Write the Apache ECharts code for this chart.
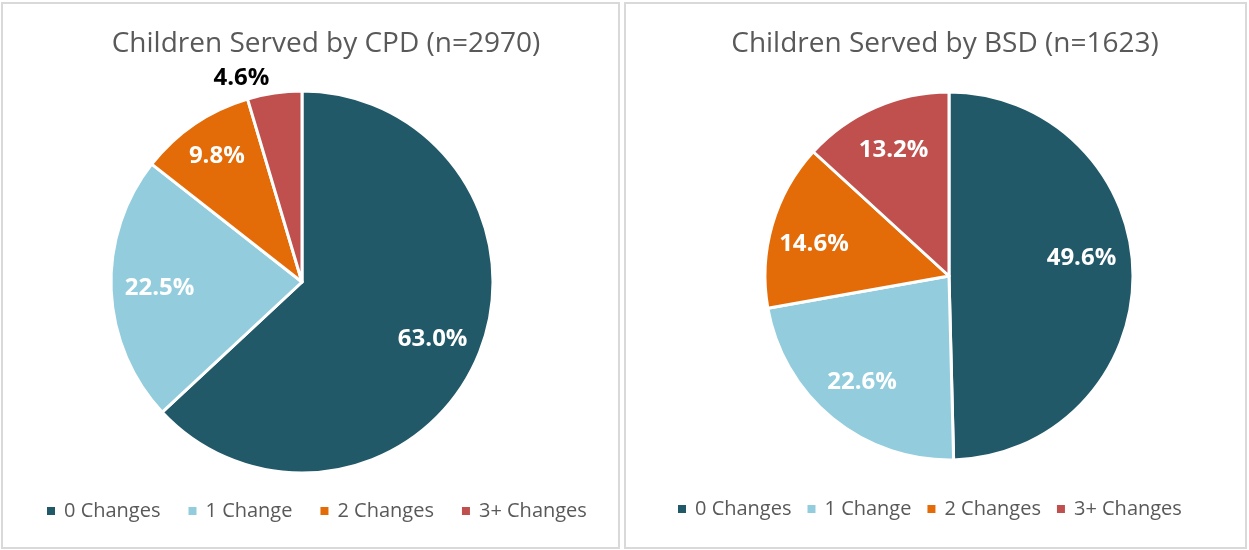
<!DOCTYPE html>
<html>
<head>
<meta charset="utf-8">
<title>Children Served</title>
<script src="https://cdn.jsdelivr.net/npm/echarts@6/dist/echarts.min.js"></script>
<style>
    html, body { margin:0; padding:0; background:#fff; }
    #main { width:1249px; height:550px; }
</style>
</head>
<body>
<div id="main"></div>
<script>
    var categories = ['0 Changes', '1 Change', '2 Changes', '3+ Changes'];
    var cpdValues = [63.0, 22.5, 9.8, 4.6];
    var bsdValues = [49.6, 22.6, 14.6, 13.2];
    var cpdTitle = 'Children Served by CPD (n=2970)';
    var bsdTitle = 'Children Served by BSD (n=1623)';

    var colors = ['#215968', '#93CDDD', '#E36C09', '#C0504D'];
    var fontFam = '"Open Sans", "Noto Sans", sans-serif';

    // tweaks for label spots (Excel moves some of them)
    var cpdLabelFix = { 2: { offset: [-5, -8] }, 3: { offset: [-40, -63], color: '#000' } };
    var bsdLabelFix = { 0: { offset: [-5, -16] }, 2: { offset: [-3, 7] } };

    function slices(vals) {
        return vals.map(function (v, i) {
            return { name: categories[i], value: v };
        });
    }

    function labelSlices(vals, fix) {
        return vals.map(function (v, i) {
            var d = { name: 'lbl' + i, value: v };
            if (fix[i]) d.label = fix[i];
            return d;
        });
    }

    function pieSeries(vals, center, r) {
        return {
            type: 'pie',
            center: center,
            radius: [0, r],
            startAngle: 90,
            clockwise: true,
            animation: false,
            label: { show: false },
            labelLine: { show: false },
            itemStyle: { borderColor: '#fff', borderWidth: 3 },
            emphasis: { disabled: true },
            data: slices(vals)
        };
    }

    // invisible ring just to place the labels further out than r/2
    function labelSeries(vals, center, r, fix) {
        return {
            type: 'pie',
            center: center,
            radius: [Math.round(r * 0.46), r],
            startAngle: 90,
            clockwise: true,
            silent: true,
            animation: false,
            itemStyle: { color: 'transparent', borderWidth: 0 },
            emphasis: { disabled: true },
            labelLine: { show: false },
            label: {
                show: true,
                position: 'inside',
                color: '#fff',
                fontFamily: fontFam,
                fontWeight: 'bold',
                fontSize: 24,
                formatter: function (p) { return p.value.toFixed(1) + '%'; }
            },
            data: labelSlices(vals, fix)
        };
    }

    var legendBase = {
        data: categories,
        icon: 'rect',
        itemWidth: 10,
        itemHeight: 10,
        textStyle: { color: '#595959', fontSize: 20, fontFamily: fontFam, padding: [0, 0, 0, 3] }
    };

    var myChart = echarts.init(document.getElementById('main'));

    myChart.setOption({
        color: colors,
        graphic: [
            { type: 'rect', shape: { x: 2, y: 3, width: 617, height: 545 },
              style: { fill: 'none', stroke: '#d9d9d9', lineWidth: 2 }, silent: true },
            { type: 'rect', shape: { x: 625, y: 3, width: 621, height: 545 },
              style: { fill: 'none', stroke: '#d9d9d9', lineWidth: 2 }, silent: true }
        ],
        title: [
            { text: cpdTitle, left: 321, top: 25, textAlign: 'center',
              textStyle: { color: '#595959', fontSize: 28, fontWeight: 'normal', fontFamily: fontFam } },
            { text: bsdTitle, left: 940, top: 25, textAlign: 'center',
              textStyle: { color: '#595959', fontSize: 28, fontWeight: 'normal', fontFamily: fontFam } }
        ],
        legend: [
            Object.assign({}, legendBase, { left: 40, top: 496, itemGap: 26 }),
            Object.assign({}, legendBase, { left: 671, top: 494, itemGap: 14 })
        ],
        series: [
            pieSeries(cpdValues, [302, 282], 191),
            pieSeries(bsdValues, [949, 276], 184),
            labelSeries(cpdValues, [302, 282], 191, cpdLabelFix),
            labelSeries(bsdValues, [949, 276], 184, bsdLabelFix)
        ]
    });
</script>
</body>
</html>
